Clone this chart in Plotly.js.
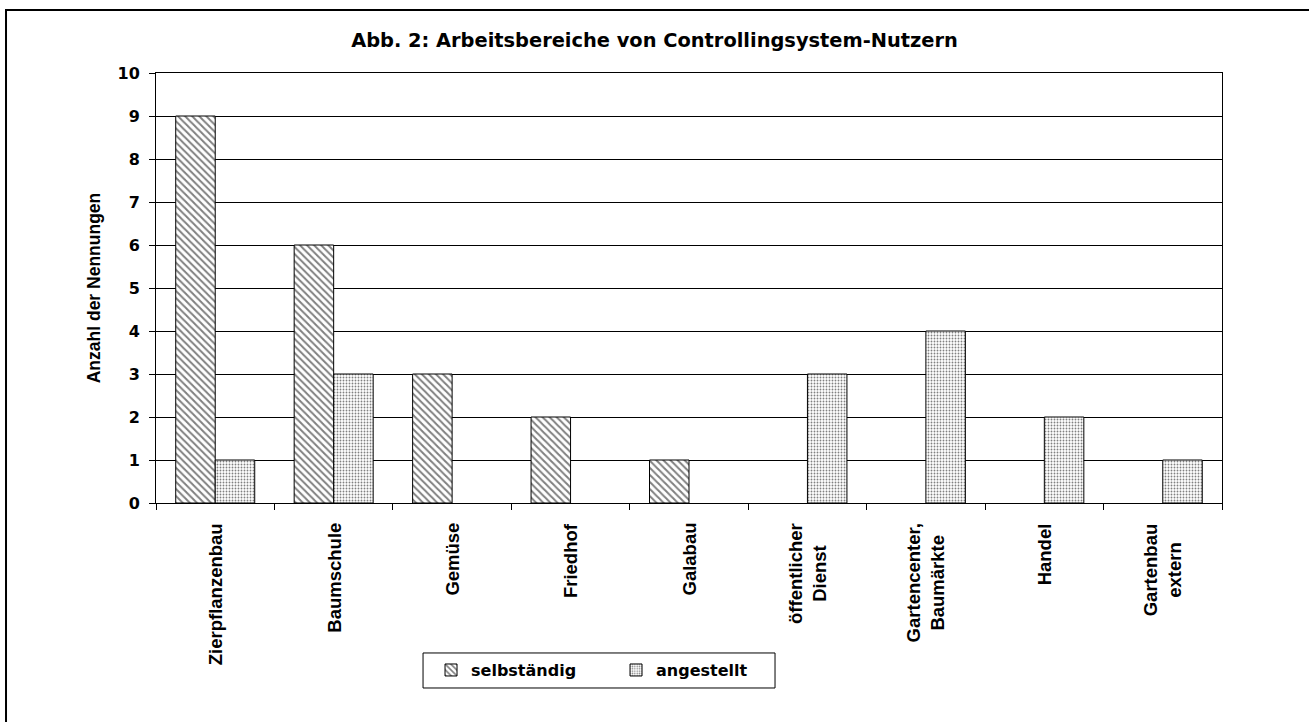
<!DOCTYPE html>
<html>
<head>
<meta charset="utf-8">
<script src="https://cdn.plot.ly/plotly-3.0.1.min.js"></script>
<style>html,body{margin:0;padding:0;background:#fff;}#chart{width:1309px;height:722px;}</style>
</head>
<body>
<div id="chart"></div>
<script>
const categories = ["Zierpflanzenbau", "Baumschule", "Gemüse", "Friedhof", "Galabau", "öffentlicher Dienst", "Gartencenter, Baumärkte", "Handel", "Gartenbau extern"];
const categoryLabels = ["Zierpflanzenbau", "Baumschule", "Gemüse", "Friedhof", "Galabau", "öffentlicher<br>Dienst", "Gartencenter,<br>Baumärkte", "Handel", "Gartenbau<br>extern"];
const selbstaendig = [9, 6, 3, 2, 1, 0, 0, 0, 0];
const angestellt = [1, 3, 0, 0, 0, 3, 4, 2, 1];
const yTicks = [0, 1, 2, 3, 4, 5, 6, 7, 8, 9, 10];

const FONT = "Liberation Sans, Arial, sans-serif";
const WIDE = "DejaVu Sans, Liberation Sans, sans-serif";

function outline(vals) { return vals.map(v => (v === 0 ? 0 : 1)); }

const traces = [
  {
    type: "bar", name: "selbständig", x: categories, y: selbstaendig,
    marker: {
      color: "#ffffff",
      line: {color: "#000000", width: outline(selbstaendig)},
      pattern: {shape: "\\", fgcolor: "#808080", bgcolor: "#ffffff", size: 5, solidity: 0.4}
    },
    hoverinfo: "x+y"
  },
  {
    type: "bar", name: "angestellt", x: categories, y: angestellt,
    marker: {
      color: "#ffffff",
      line: {color: "#000000", width: outline(angestellt)},
      pattern: {shape: ".", fgcolor: "#808080", bgcolor: "#ffffff", size: 3, solidity: 0.3}
    },
    hoverinfo: "x+y"
  }
];

const annotations = categories.map((c, i) => ({
  x: c, xref: "x", y: 0, yref: "paper", yshift: -18,
  xanchor: "center", yanchor: "top",
  text: categoryLabels[i], textangle: -90, showarrow: false, align: "center",
  font: {family: FONT, size: 18.5, color: "#000", weight: "bold"}
}));

const layout = {
  width: 1309, height: 722,
  paper_bgcolor: "#ffffff", plot_bgcolor: "#ffffff",
  margin: {l: 156, r: 87, t: 73, b: 219},
  font: {family: FONT, size: 18, color: "#000"},
  title: {
    text: "Abb. 2: Arbeitsbereiche von Controllingsystem-Nutzern",
    x: 0.5, xref: "container", xanchor: "center",
    y: 0.945, yref: "container", yanchor: "middle",
    font: {family: WIDE, size: 19.4, color: "#000", weight: "bold"}
  },
  barmode: "group", bargap: 0.333, bargroupgap: 0,
  xaxis: {
    type: "category", tickson: "boundaries", ticks: "outside", ticklen: 6, tickcolor: "#000", tickwidth: 1,
    showticklabels: false, showline: true, linecolor: "#000", linewidth: 1, mirror: true,
    showgrid: false, zeroline: false, fixedrange: true
  },
  yaxis: {
    range: [0, 10], tickvals: yTicks, ticktext: yTicks.map(String),
    ticks: "outside", ticklen: 6, tickcolor: "#000", tickwidth: 1, ticklabelstandoff: 6,
    tickfont: {family: WIDE, size: 16, color: "#000", weight: "bold"},
    showline: true, linecolor: "#000", linewidth: 1, mirror: true,
    showgrid: true, gridcolor: "#000", gridwidth: 1, zeroline: false,
    title: {text: "Anzahl der Nennungen", standoff: 12, font: {family: FONT, size: 17.5, color: "#000", weight: "bold"}},
    fixedrange: true
  },
  legend: {
    orientation: "h", x: 0.258, xanchor: "left", y: -0.349, yanchor: "top",
    borderwidth: 0, bgcolor: "rgba(0,0,0,0)",
    entrywidth: 140, entrywidthmode: "pixels",
    font: {family: WIDE, size: 16, color: "#000", weight: "bold"}
  },
  annotations: annotations,
  shapes: [
    {
      type: "rect", xref: "paper", yref: "paper",
      x0: -0.1407, x1: 1.1, y0: -0.6, y1: 1.1465,
      line: {color: "#000", width: 2}, fillcolor: "rgba(0,0,0,0)"
    },
    {
      type: "rect", xref: "paper", yref: "paper",
      x0: 0.2505, x1: 0.5807, y0: -0.4302, y1: -0.3488,
      line: {color: "#000", width: 1}, fillcolor: "rgba(0,0,0,0)"
    }
  ],
  showlegend: true
};

Plotly.newPlot("chart", traces, layout, {displayModeBar: false, staticPlot: true});
</script>
</body>
</html>
